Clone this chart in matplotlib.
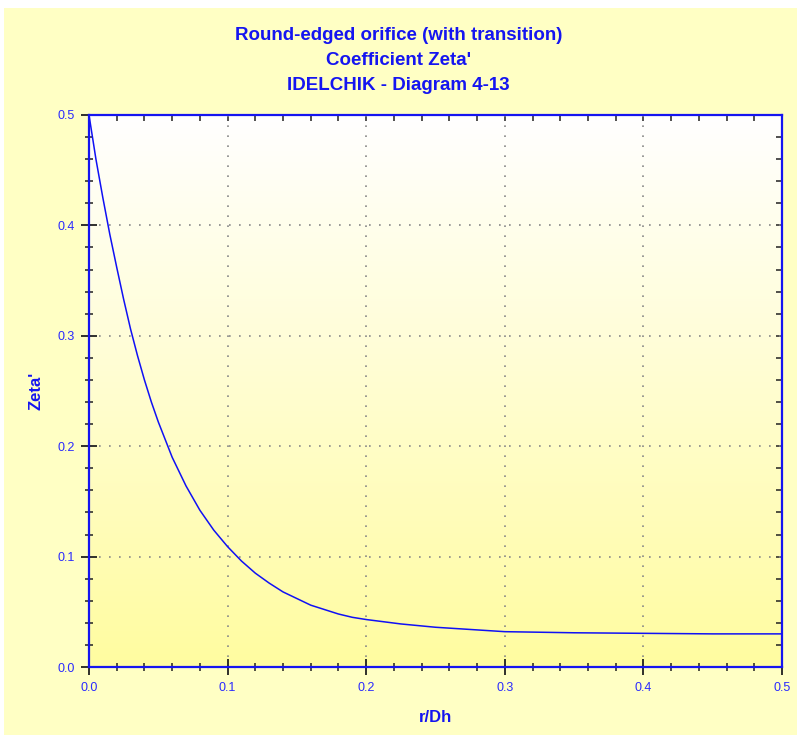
import numpy as np
import matplotlib
matplotlib.use('Agg')
import matplotlib.pyplot as plt
from matplotlib.patches import Rectangle
from matplotlib.ticker import MultipleLocator

# values
r_dh = [0.0, 0.005, 0.01, 0.015, 0.02, 0.025, 0.03, 0.035, 0.04, 0.045, 0.05,
        0.06, 0.07, 0.08, 0.09, 0.10, 0.11, 0.12, 0.13, 0.14, 0.15, 0.16,
        0.17, 0.18, 0.19, 0.20, 0.225, 0.25, 0.275, 0.30, 0.35, 0.40, 0.45, 0.50]
zeta = [0.500, 0.460, 0.425, 0.392, 0.362, 0.333, 0.306, 0.282, 0.260, 0.240, 0.222,
        0.190, 0.164, 0.142, 0.124, 0.109, 0.096, 0.085, 0.076, 0.068, 0.062, 0.056,
        0.052, 0.048, 0.045, 0.043, 0.039, 0.036, 0.034, 0.032, 0.031, 0.0305, 0.030, 0.030]

title_lines = ["Round-edged orifice (with transition)", "Coefficient Zeta'", "IDELCHIK - Diagram 4-13"]

blue = '#1515F0'
plt.rcParams['font.family'] = ['Liberation Sans', 'DejaVu Sans']

fig = plt.figure(figsize=(7.97, 7.35), dpi=100, facecolor='white')
fig.patches.append(Rectangle((4/797, 0), 1, 727/735, transform=fig.transFigure,
                             facecolor='#FFFFC4', edgecolor='none', zorder=-10))

ax = fig.add_axes([89/797, 68/735, 693/797, 552/735])
ax.set_xlim(0, 0.5)
ax.set_ylim(0, 0.5)

# vertical gradient white -> yellow
grad = np.linspace(0, 1, 256).reshape(-1, 1)
cmap = matplotlib.colors.LinearSegmentedColormap.from_list('bg', ['#FFFFFF', '#FFFCA0'])
ax.imshow(grad, extent=(0, 1, 0, 1), transform=ax.transAxes, cmap=cmap,
          aspect='auto', origin='upper', zorder=0)

ax.plot(r_dh, zeta, color='#1010F5', lw=1.1, zorder=3)

ax.xaxis.set_major_locator(MultipleLocator(0.1))
ax.xaxis.set_minor_locator(MultipleLocator(0.02))
ax.yaxis.set_major_locator(MultipleLocator(0.1))
ax.yaxis.set_minor_locator(MultipleLocator(0.02))
ax.xaxis.set_major_formatter(matplotlib.ticker.FormatStrFormatter('%.1f'))
ax.yaxis.set_major_formatter(matplotlib.ticker.FormatStrFormatter('%.1f'))
ax.grid(True, which='major', color='#888888', linestyle=(0, (1, 5)), lw=1.2, zorder=1)

ax.tick_params(which='major', direction='inout', length=11, width=1.3, color='#202020',
               labelcolor='#2a2aff', labelsize=9, pad=5)
ax.tick_params(which='minor', direction='inout', length=6, width=1.1, color='#202020')

for s in ax.spines.values():
    s.set_color(blue)
    s.set_linewidth(1.6)
    s.set_zorder(4)

top = ax.secondary_xaxis('top')
top.xaxis.set_major_locator(MultipleLocator(0.1))
top.xaxis.set_minor_locator(MultipleLocator(0.02))
top.tick_params(which='both', direction='in', length=4, width=1.1, color='#202020', labeltop=False)
top.spines['top'].set_visible(False)
right = ax.secondary_yaxis('right')
right.yaxis.set_major_locator(MultipleLocator(0.1))
right.yaxis.set_minor_locator(MultipleLocator(0.02))
right.tick_params(which='both', direction='in', length=4, width=1.1, color='#202020', labelright=False)
right.spines['right'].set_visible(False)

ax.set_xlabel('r/Dh', color=blue, fontsize=12, fontweight='bold', labelpad=12)
ax.set_ylabel("Zeta'", color=blue, fontsize=12, fontweight='bold', labelpad=10)

for i, t in enumerate(title_lines):
    fig.text(0.5, 1 - (35 + 25.5 * i) / 735, t, ha='center', va='center',
             color=blue, fontsize=13.5, fontweight='bold')

fig.savefig('out.png', dpi=100, facecolor=fig.get_facecolor())
